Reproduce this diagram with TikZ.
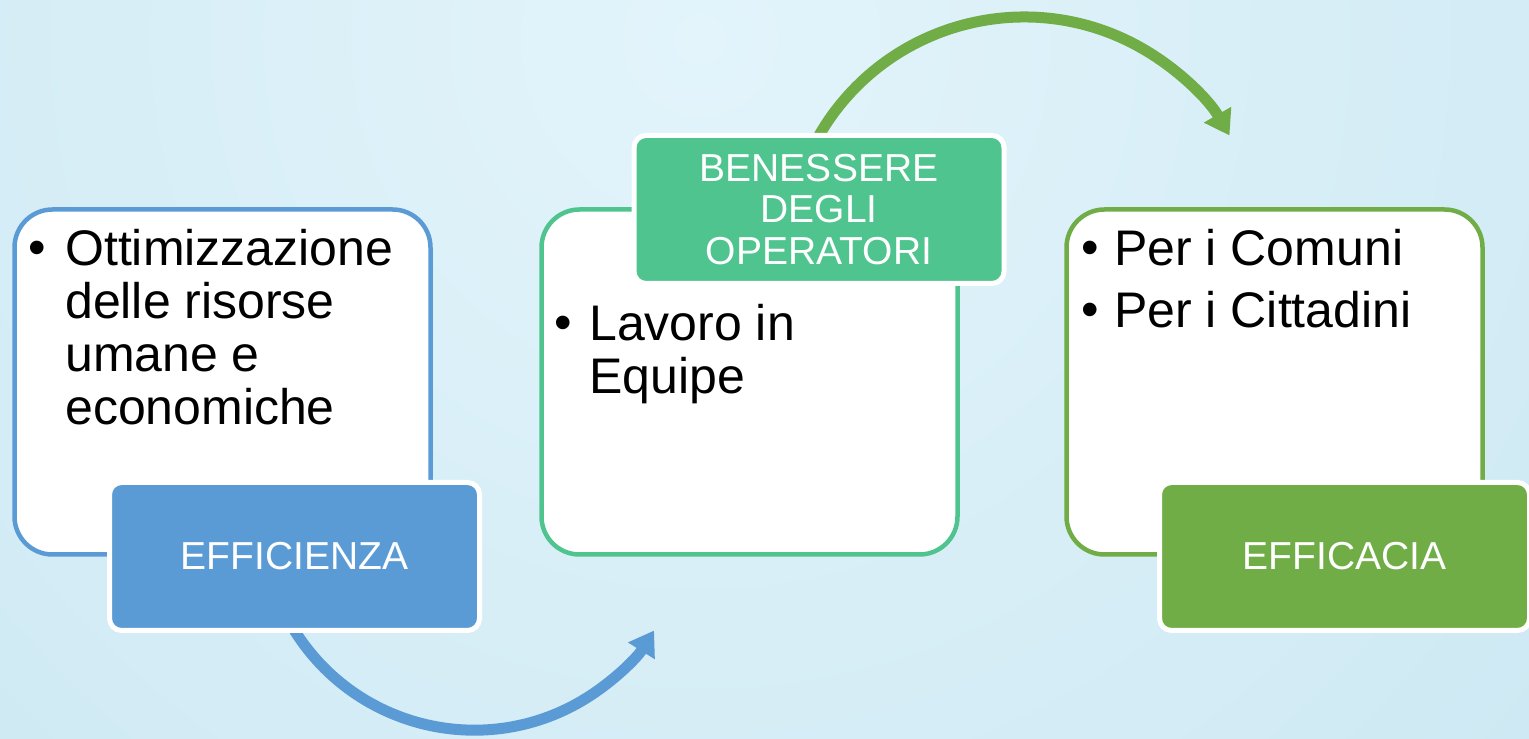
\documentclass[tikz,border=0pt]{standalone}
\usepackage{fontspec}
\setmainfont{Liberation Sans}
\usepackage{tikz}
\usetikzlibrary{arrows.meta}

\definecolor{effblue}{HTML}{5B9BD5}
\definecolor{bengreen}{HTML}{4FC48F}
\definecolor{acagreen}{HTML}{70AD47}
\definecolor{bglight}{HTML}{E3F4FB}
\definecolor{bgdark}{HTML}{C0E2EE}

\begin{document}
\begin{tikzpicture}[x=1pt,y=1pt,
  cardbox/.style={draw=#1,line width=4.5pt,fill=white,rounded corners=38pt,
    minimum width=416pt,minimum height=345pt,outer sep=0pt},
  tagbox/.style={fill=#1,draw=white,line width=5pt,rounded corners=12pt,
    minimum width=370pt,minimum height=148pt,outer sep=0pt,text=white,
    align=center,font=\fontsize{39}{41.5}\selectfont},
  itemtext/.style={anchor=north west,inner sep=0pt,align=left,
    font=\fontsize{50}{53}\selectfont},
  itemdot/.style={anchor=base,inner sep=0pt,font=\fontsize{50}{53}\selectfont},
  bowarrow/.style={draw=#1,line width=11pt,-{Triangle[length=24pt,width=30pt]}}]

\useasboundingbox (0,0) rectangle (1529,739);

% background
\begin{scope}
\clip (0,0) rectangle (1529,739);
\shade[inner color=bglight,outer color=bgdark] (700,700) circle (1800);
\end{scope}

\coordinate (effbot) at (294.5,108.5);
\coordinate (bentop) at (819,603.5);
\coordinate (acabot) at (1344.5,108.5);

\draw[bowarrow=effblue] (effbot) arc[start angle=212,end angle=328,radius=212];
\draw[bowarrow=acagreen] (bentop) arc[start angle=150,end angle=30,radius=237];

\node (ottcard) [cardbox=effblue] at (222.5,357) {};
\node (lavcard) [cardbox=bengreen] at (749.5,357) {};
\node (percard) [cardbox=acagreen] at (1274.5,357) {};

\node (eff) [tagbox=effblue,anchor=south] at (effbot) {EFFICIENZA};
\node (ben) [tagbox=bengreen,anchor=north] at (bentop) {BENESSERE\\DEGLI\\OPERATORI};
\node (aca) [tagbox=acagreen,anchor=south] at (acabot) {EFFICACIA};

\node (ottdot) [itemdot] at (37,474) {\textbullet};
\node (ott) [itemtext] at (65,510) {Ottimizzazione\\delle risorse\\umane e\\economiche};

\node (lavdot) [itemdot] at (563,399) {\textbullet};
\node (lav) [itemtext] at (589,435) {Lavoro in\\Equipe};

\node (comdot) [itemdot] at (1090,474) {\textbullet};
\node (com) [itemtext] at (1114,510) {Per i Comuni};
\node (citdot) [itemdot] at (1090,412) {\textbullet};
\node (cit) [itemtext] at (1114,448) {Per i Cittadini};

\end{tikzpicture}
\end{document}
